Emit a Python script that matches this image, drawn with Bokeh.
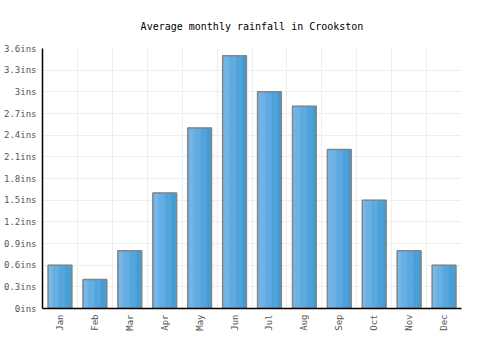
from bokeh.plotting import figure
from bokeh.models import Range1d, FixedTicker
from bokeh.embed import file_html
from bokeh.resources import INLINE
import math

months = ["Jan", "Feb", "Mar", "Apr", "May", "Jun", "Jul", "Aug", "Sep", "Oct", "Nov", "Dec"]
rainfall = [0.6, 0.4, 0.8, 1.6, 2.5, 3.5, 3.0, 2.8, 2.2, 1.5, 0.8, 0.6]
y_ticks = [0, 0.3, 0.6, 0.9, 1.2, 1.5, 1.8, 2.1, 2.4, 2.7, 3.0, 3.3, 3.6]
y_tick_labels = ["0ins", "0.3ins", "0.6ins", "0.9ins", "1.2ins", "1.5ins", "1.8ins",
                 "2.1ins", "2.4ins", "2.7ins", "3ins", "3.3ins", "3.6ins"]

FONT = "DejaVu Sans Mono"

p = figure(width=500, height=350, output_backend="svg", toolbar_location=None,
           x_range=Range1d(0, len(months)), y_range=Range1d(0, 3.6),
           min_border_left=41, min_border_right=39, min_border_top=48, min_border_bottom=42)

p.title.text = "Average monthly rainfall in Crookston"
p.title.align = "center"
p.title.text_font = FONT
p.title.text_font_size = "10px"
p.title.text_font_style = "normal"
p.title.text_color = "#000000"
p.title.standoff = 33

xs = [i + 0.5 for i in range(len(months))]
bar_w = 0.68

# gradient fill via thin slices
n = 20
c0 = (0x76, 0xb7, 0xea)
c1 = (0x3b, 0x98, 0xd3)
for k in range(n):
    t = k / (n - 1)
    col = "#%02x%02x%02x" % tuple(int(round(a + (b - a) * t)) for a, b in zip(c0, c1))
    off = -bar_w / 2 + (k + 0.5) * bar_w / n
    p.vbar(x=[x + off for x in xs], top=rainfall, width=bar_w / n, bottom=0,
           fill_color=col, line_color=col, line_width=0.6)
p.vbar(x=xs, top=rainfall, width=bar_w, bottom=0, fill_color=None,
       line_color="#858585", line_width=1.5)

p.outline_line_color = None

p.xgrid.ticker = FixedTicker(ticks=list(range(len(months) + 1)))
p.ygrid.ticker = FixedTicker(ticks=y_ticks)
p.xgrid.grid_line_color = "#eeeeee"
p.ygrid.grid_line_color = "#eeeeee"
p.xgrid.grid_line_width = 1
p.ygrid.grid_line_width = 1

p.xaxis.ticker = FixedTicker(ticks=xs)
p.xaxis.major_label_overrides = {x: m for x, m in zip(xs, months)}
p.xaxis.major_label_orientation = math.pi / 2
p.yaxis.ticker = FixedTicker(ticks=y_ticks)
p.yaxis.major_label_overrides = {t: l for t, l in zip(y_ticks, y_tick_labels)}

for ax in (p.xaxis[0], p.yaxis[0]):
    ax.axis_line_color = "#000000"
    ax.axis_line_width = 1.5
    ax.major_tick_line_color = None
    ax.minor_tick_line_color = None
    ax.major_tick_out = 0
    ax.major_tick_in = 0
    ax.minor_tick_out = 0
    ax.minor_tick_in = 0
    ax.major_label_text_font = FONT
    ax.major_label_text_font_size = "9px"
    ax.major_label_text_color = "#555555"
    ax.major_label_standoff = 6

open("out.html", "w").write(file_html(p, INLINE))
